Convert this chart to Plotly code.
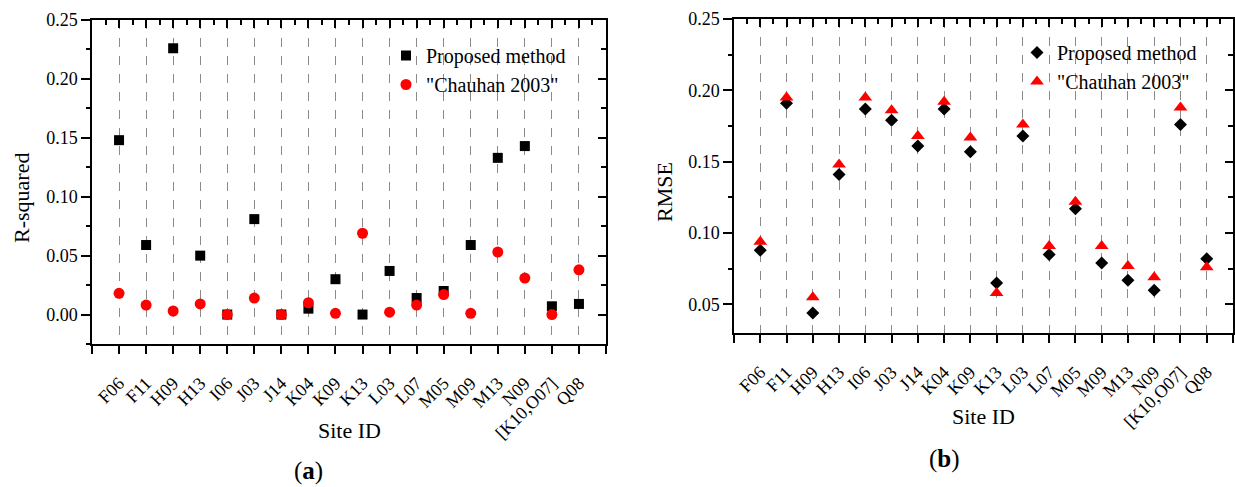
import plotly.graph_objects as go

# ---------------- data ----------------
sites = ["F06", "F11", "H09", "H13", "I06", "J03", "J14", "K04", "K09", "K13",
         "L03", "L07", "M05", "M09", "M13", "N09", "[K10,O07]", "Q08"]

r2_proposed = [0.148, 0.059, 0.226, 0.050, 0.000, 0.081, 0.000, 0.005, 0.030, 0.000,
               0.037, 0.014, 0.020, 0.059, 0.133, 0.143, 0.007, 0.009]
r2_chauhan = [0.018, 0.008, 0.003, 0.009, 0.000, 0.014, 0.000, 0.010, 0.001, 0.069,
              0.002, 0.008, 0.017, 0.001, 0.053, 0.031, 0.000, 0.038]

rmse_proposed = [0.088, 0.191, 0.044, 0.141, 0.187, 0.179, 0.161, 0.187, 0.157, 0.065,
                 0.168, 0.085, 0.117, 0.079, 0.067, 0.060, 0.176, 0.082]
rmse_chauhan = [0.094, 0.195, 0.055, 0.148, 0.195, 0.186, 0.168, 0.192, 0.167, 0.058,
                0.176, 0.091, 0.122, 0.091, 0.077, 0.069, 0.188, 0.076]

series_names = ["Proposed method", '"Chauhan 2003"']
y_titles = ["R-squared", "RMSE"]
x_title = "Site ID"
panel_labels = ["(<b>a</b>)", "(<b>b</b>)"]

# ---------------- geometry helpers ----------------
W, H = 1235, 487
FONT = "Liberation Serif"


def px(x):
    return x / W


def py(y):
    return 1 - y / H


idx = list(range(len(sites)))
tickvals = list(range(-1, len(sites) + 1))
ticktext = [""] + sites + [""]
half_vals = [v + 0.5 for v in tickvals[:-1]]
xrange_ = [-1, len(sites)]

fig = go.Figure()

# left panel
fig.add_trace(go.Scatter(x=idx, y=r2_proposed, mode="markers", name=series_names[0],
                         marker=dict(symbol="square", size=10, color="#000000"),
                         xaxis="x", yaxis="y", legend="legend"))
fig.add_trace(go.Scatter(x=idx, y=r2_chauhan, mode="markers", name=series_names[1],
                         marker=dict(symbol="circle", size=11, color="#ff0000"),
                         xaxis="x", yaxis="y", legend="legend"))
# right panel
fig.add_trace(go.Scatter(x=idx, y=rmse_proposed, mode="markers", name=series_names[0],
                         marker=dict(symbol="diamond", size=10, color="#000000"),
                         xaxis="x2", yaxis="y2", legend="legend2"))
fig.add_trace(go.Scatter(x=idx, y=rmse_chauhan, mode="markers", name=series_names[1],
                         marker=dict(symbol="triangle-up", size=12, color="#ff0000"),
                         xaxis="x2", yaxis="y2", legend="legend2"))
# dummy traces for mirrored (inside-tick) axes
fig.add_trace(go.Scatter(x=[None], y=[None], xaxis="x3", yaxis="y3", showlegend=False, hoverinfo="skip"))
fig.add_trace(go.Scatter(x=[None], y=[None], xaxis="x4", yaxis="y4", showlegend=False, hoverinfo="skip"))

LW = 1.5
tickfont = dict(family=FONT, size=18, color="black")

panels = [
    dict(xd=[px(92), px(606)], yd=[py(344), py(20)], yr=[-0.025, 0.25]),
    dict(xd=[px(734), px(1233)], yd=[py(333), py(19)], yr=[0.03, 0.25]),
]

layout = dict(
    width=W, height=H, margin=dict(l=0, r=0, t=0, b=0),
    paper_bgcolor="white", plot_bgcolor="white",
    font=dict(family=FONT, color="black"),
)

for i, p in enumerate(panels):
    n = i + 1
    xs = "" if n == 1 else str(n)
    ov = str(n + 2)
    layout["xaxis" + xs] = dict(
        domain=p["xd"], anchor="y" + xs, range=xrange_,
        tickmode="array", tickvals=tickvals, ticktext=ticktext, tickangle=-45,
        ticks="outside", ticklen=8, tickwidth=LW, tickcolor="black",
        ticklabelstandoff=12,
        showline=True, linewidth=LW, linecolor="black",
        showgrid=True, gridcolor="#8a8a8a", griddash="dash", gridwidth=1,
        zeroline=False, tickfont=tickfont, automargin=False,
    )
    layout["yaxis" + xs] = dict(
        domain=p["yd"], anchor="x" + xs, range=p["yr"],
        tick0=0, dtick=0.05, tickformat=".2f",
        ticks="outside", ticklen=9, tickwidth=LW, tickcolor="black",
        minor=dict(tick0=0, dtick=0.025, ticks="outside", ticklen=4, tickwidth=LW,
                   tickcolor="black", showgrid=False),
        showline=True, linewidth=LW, linecolor="black",
        showgrid=False, zeroline=False, tickfont=tickfont, automargin=False,
    )
    layout["xaxis" + ov] = dict(
        domain=p["xd"], overlaying="x" + xs, anchor="y" + ov, side="top", range=xrange_,
        tickmode="array", tickvals=tickvals, showticklabels=False,
        ticks="inside", ticklen=8, tickwidth=LW, tickcolor="black",
        minor=dict(tickmode="array", tickvals=half_vals, ticks="inside", ticklen=5,
                   tickwidth=LW, tickcolor="black", showgrid=False),
        showline=True, linewidth=LW, linecolor="black",
        showgrid=False, zeroline=False, automargin=False,
    )
    layout["yaxis" + ov] = dict(
        domain=p["yd"], overlaying="y" + xs, anchor="x" + ov, side="right", range=p["yr"],
        tick0=0, dtick=0.05, showticklabels=False,
        ticks="inside", ticklen=8, tickwidth=LW, tickcolor="black",
        minor=dict(tick0=0, dtick=0.025, ticks="inside", ticklen=5, tickwidth=LW,
                   tickcolor="black", showgrid=False),
        showline=True, linewidth=LW, linecolor="black",
        showgrid=False, zeroline=False, automargin=False,
    )

legend_font = dict(family=FONT, size=20, color="black")
layout["legend"] = dict(x=px(386), y=py(36), xanchor="left", yanchor="top",
                        bgcolor="rgba(0,0,0,0)", font=legend_font, tracegroupgap=0)
layout["legend2"] = dict(x=px(1017), y=py(33), xanchor="left", yanchor="top",
                         bgcolor="rgba(0,0,0,0)", font=legend_font, tracegroupgap=0)

title_font = dict(family=FONT, size=22, color="black")
label_font = dict(family=FONT, size=25, color="black")
annotations = [
    dict(text=y_titles[0], x=px(22), y=py(198), textangle=-90, font=title_font),
    dict(text=x_title, x=px(349), y=py(430), font=title_font),
    dict(text=panel_labels[0], x=px(308), y=py(471), font=label_font),
    dict(text=y_titles[1], x=px(664), y=py(192), textangle=-90, font=title_font),
    dict(text=x_title, x=px(983), y=py(416), font=title_font),
    dict(text=panel_labels[1], x=px(944), y=py(459), font=label_font),
]
for a in annotations:
    a.update(xref="paper", yref="paper", showarrow=False, xanchor="center", yanchor="middle")
layout["annotations"] = annotations

fig.update_layout(**layout)
fig.write_html("out.html")
